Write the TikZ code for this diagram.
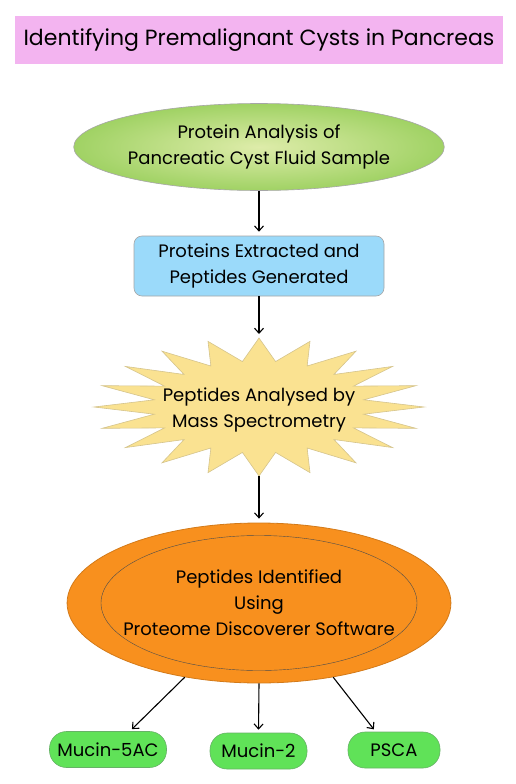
\documentclass[tikz,border=0pt]{standalone}
\usepackage{fontspec}
\setmainfont{Poppins}
\usepackage{xcolor}
\usetikzlibrary{arrows.meta,shapes.geometric,positioning}

\definecolor{titlepink}{RGB}{243,180,240}
\definecolor{fluidlight}{RGB}{222,236,170}
\definecolor{fluiddark}{RGB}{160,210,100}
\definecolor{extractblue}{RGB}{155,218,250}
\definecolor{burstyellow}{RGB}{250,226,145}
\definecolor{identorange}{RGB}{248,144,30}
\definecolor{markergreen}{RGB}{96,226,88}

\begin{document}
\begin{tikzpicture}[
    x=1pt,
    y=-1pt,
    >={Straight Barb[length=5pt,width=9pt]},
    every node/.style={font=\fontsize{18}{26}\selectfont, align=center},
    flow/.style={->, line width=1.1pt, shorten >=4pt},
    stepnode/.style={draw=gray!70, line width=0.6pt},
    marker/.style={stepnode, draw=green!50!black!60, fill=markergreen,
        rounded corners=17pt, minimum height=36pt, inner sep=0pt}
]

% Canvas
\useasboundingbox (0,0) rectangle (516,784);
\fill[white] (0,0) rectangle (516,784);

% Title
\node[fill=titlepink, minimum width=488pt, minimum height=48pt,
      font=\fontsize{22}{28}\selectfont]
    (title) at (259,40) {Identifying Premalignant Cysts in Pancreas};

% Sample
\node[stepnode, ellipse, inner sep=0pt, minimum width=314pt, minimum height=87pt,
      inner color=fluidlight, outer color=fluiddark]
    (fluid) at (259,147)
    {Protein Analysis of\\Pancreatic Cyst Fluid Sample};

% Extraction
\node[stepnode, fill=extractblue, rounded corners=8pt,
      minimum width=250pt, minimum height=60pt]
    (extract) at (259,266)
    {Proteins Extracted and\\Peptides Generated};

% Mass spectrometry burst
\draw[stepnode, fill=burstyellow, draw=burstyellow!70!gray]
    plot[samples at={0,...,39}, variable=\k]
    ({259+(165-59*mod(\k,2))*cos(90+9*\k)},
     {407-(69-23*mod(\k,2))*sin(90+9*\k)}) -- cycle;
\coordinate (burstTop) at (259,338);
\coordinate (burstBot) at (259,476);
\node (massspec) at (259,410)
    {Peptides Analysed by\\Mass Spectrometry};

% Identification
\node[ellipse, fill=identorange, draw=identorange!85!black, line width=0.8pt,
      minimum width=378pt, minimum height=160pt, inner sep=0pt]
    (identified) at (259,603)
    {Peptides Identified\\Using\\Proteome Discoverer Software};
\draw[black!70, line width=0.4pt]
    (identified.center) ellipse [x radius=158pt, y radius=67.5pt];

% Proteins found
\node[marker, minimum width=117pt] (mucinAC) at (108,749.5) {Mucin-5AC};
\node[marker, minimum width=97pt] (mucinTwo) at (258.5,751) {Mucin-2};
\node[marker, minimum width=92pt] (psca) at (394,750) {PSCA};

% Arrows
\draw[flow] (fluid.south) -- (extract.north);
\draw[flow] (extract.south) -- (burstTop);
\draw[flow] (burstBot) -- (identified.north);
\draw[flow, shorten >=3pt] (identified.225) -- (mucinAC.40);
\draw[flow, shorten >=3pt] (identified.south) -- (mucinTwo.north);
\draw[flow, shorten >=3pt] (identified.-45) -- (psca.135);

\end{tikzpicture}
\end{document}
